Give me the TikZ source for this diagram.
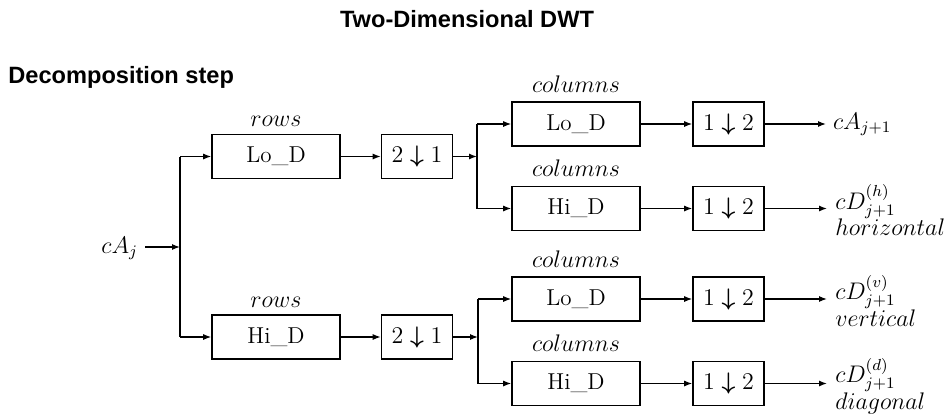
\documentclass[tikz,border=0pt]{standalone}
\usepackage{amsmath}
\usepackage{fontspec}
\newfontfamily\headfont{Liberation Sans}
\usepackage{tikz}
\usetikzlibrary{positioning, arrows.meta}
\newcommand\mainsize{\fontsize{11.5}{14}\selectfont}
\newcommand\headsize{\fontsize{11.8}{14}\selectfont}
\newcommand\dwn[2]{$#1\;{\boldsymbol{\downarrow}}\;#2$}

\begin{document}
\begin{tikzpicture}[x=0.5pt, y=-0.5pt,
    filt/.style={draw, line width=0.8pt, minimum width=64pt, minimum height=22pt, font=\mainsize},
    dsmp/.style={draw, line width=0.8pt, minimum width=35.5pt, minimum height=22pt, inner sep=1pt, font=\mainsize},
    lbl/.style={font=\mainsize},
    arr/.style={-{Latex[length=4pt,width=3pt]}, line width=0.6pt},
    wire/.style={line width=0.6pt}]
    \useasboundingbox (0,0) rectangle (951,413);

    % Titols
    \node (title) [anchor=base, inner sep=0pt, font=\headfont\headsize\bfseries] at (467,27) {Two-Dimensional DWT};
    \node (step) [anchor=base west, inner sep=0pt, font=\headfont\headsize\bfseries] at (8,83) {Decomposition step};

    % Entrada i bifurcacions
    \node (cAj) [lbl, anchor=base east] at (145,253) {$cA_j$};
    \coordinate (s0) at (180,247);
    \coordinate (s1) at (477,156.5);
    \coordinate (s2) at (478,337);

    % Files
    \node (lor) [filt] at (276,156.5) {Lo\_D};
    \node (hir) [filt] at (276,337) {Hi\_D};
    \node [lbl, above=0pt of lor] {$rows$};
    \node [lbl, above=0pt of hir] {$rows$};
    \node (dr1) [dsmp] at (417,156.5) {\dwn{2}{1}};
    \node (dr2) [dsmp] at (417,337) {\dwn{2}{1}};

    % Columnes
    \node (loc1) [filt] at (576,124) {Lo\_D};
    \node (hic1) [filt] at (576,208.5) {Hi\_D};
    \node (loc2) [filt] at (576,299) {Lo\_D};
    \node (hic2) [filt] at (576,383.5) {Hi\_D};
    \node [lbl, above=1pt of loc1] {$columns$};
    \node [lbl, above=1pt of hic1] {$columns$};
    \node [lbl, above=1pt of loc2] {$columns$};
    \node [lbl, above=1pt of hic2] {$columns$};
    \node (dc1) [dsmp] at (728.5,124) {\dwn{1}{2}};
    \node (dc2) [dsmp] at (728.5,208.5) {\dwn{1}{2}};
    \node (dc3) [dsmp] at (728.5,299) {\dwn{1}{2}};
    \node (dc4) [dsmp] at (728.5,383.5) {\dwn{1}{2}};

    % Sortides
    \node (out1) [lbl, anchor=base west] at (826,129) {$cA_{j+1}$};
    \node (out2) [lbl, anchor=base west, inner sep=0pt] at (835,209) {$cD^{(h)}_{j+1}$};
    \node (out3) [lbl, anchor=base west, inner sep=0pt] at (835,299.5) {$cD^{(v)}_{j+1}$};
    \node (out4) [lbl, anchor=base west, inner sep=0pt] at (835,382.5) {$cD^{(d)}_{j+1}$};
    \node (hor) [lbl, anchor=base west, inner sep=0pt] at (835,235) {$horizontal$};
    \node (ver) [lbl, anchor=base west, inner sep=0pt] at (835,326) {$vertical$};
    \node (dia) [lbl, anchor=base west, inner sep=0pt] at (835,409) {$diagonal$};

    % Connexions
    \draw[arr] (cAj.east |- s0) -- (s0);
    \draw[wire] (s0 |- lor) -- (s0 |- hir);
    \draw[arr] (s0 |- lor) -- (lor);
    \draw[arr] (s0 |- hir) -- (hir);
    \draw[arr] (lor) -- (dr1);
    \draw[arr] (hir) -- (dr2);
    \draw[arr] (dr1) -- (s1);
    \draw[arr] (dr2) -- (s2);
    \draw[wire] (s1 |- loc1) -- (s1 |- hic1);
    \draw[wire] (s2 |- loc2) -- (s2 |- hic2);
    \draw[arr] (s1 |- loc1) -- (loc1);
    \draw[arr] (s1 |- hic1) -- (hic1);
    \draw[arr] (s2 |- loc2) -- (loc2);
    \draw[arr] (s2 |- hic2) -- (hic2);
    \draw[arr] (loc1) -- (dc1);
    \draw[arr] (hic1) -- (dc2);
    \draw[arr] (loc2) -- (dc3);
    \draw[arr] (hic2) -- (dc4);
    \draw[arr] (dc1) -- (dc1 -| out1.west);
    \draw[arr] (dc2) -- ([xshift=-4pt]dc2 -| out2.west);
    \draw[arr] (dc3) -- ([xshift=-4pt]dc3 -| out3.west);
    \draw[arr] (dc4) -- ([xshift=-4pt]dc4 -| out4.west);
\end{tikzpicture}
\end{document}
